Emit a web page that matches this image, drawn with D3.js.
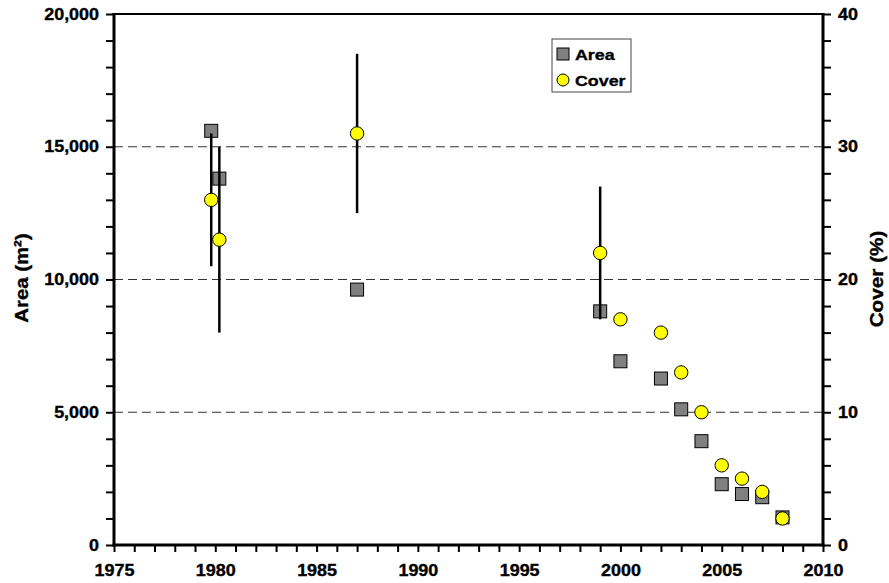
<!DOCTYPE html>
<html>
<head>
<meta charset="utf-8">
<script src="https://cdn.jsdelivr.net/npm/d3@7"></script>
<style>
  body { margin: 0; background: #fff; }
  svg text { font-family: "Liberation Sans", Arial, sans-serif; font-weight: 700; fill: #000; stroke: #000; stroke-width: 0.35px; }
</style>
</head>
<body>
<div id="chart"></div>
<script>
// data ---------------------------------------------------------------------------
const years = [1979.8, 1980.2, 1987, 1999, 2000, 2002, 2003, 2004, 2005, 2006, 2007, 2008];
const areaValues = [15600, 13800, 9620, 8800, 6920, 6270, 5110, 3910, 2290, 1920, 1800, 1040];
const coverValues = [26, 23, 31, 22, 17, 16, 13, 10, 6, 5, 4, 2];
const coverErrors = [5, 7, 6, 5, 0, 0, 0, 0, 0, 0, 0, 0];
const xTicks = [1975, 1980, 1985, 1990, 1995, 2000, 2005, 2010];
const areaTicks = [0, 5000, 10000, 15000, 20000];
const coverTicks = [0, 10, 20, 30, 40];
const gridValues = [5000, 10000, 15000];
const legendLabels = ['Area', 'Cover'];

// layout --------------------------------------------------------------------------
const width = 889, height = 583;
const margin = {top: 14, right: 66, bottom: 38, left: 114};
const w = width - margin.left - margin.right;
const h = height - margin.top - margin.bottom;

const svg = d3.select('#chart').append('svg')
  .attr('width', width)
  .attr('height', height);
const g = svg.append('g')
  .attr('transform', 'translate(' + margin.left + ',' + margin.top + ')');

const x = d3.scaleLinear().domain([1975, 2010]).range([0, w]);
const yArea = d3.scaleLinear().domain([0, 20000]).range([h, 0]);
const yCover = d3.scaleLinear().domain([0, 40]).range([h, 0]);

// Arial in the source is a bit wider than Liberation, stretch the glyphs
const stretch = (sel, k) => sel.each(function () {
  const len = this.getComputedTextLength();
  d3.select(this).attr('textLength', len * k).attr('lengthAdjust', 'spacingAndGlyphs');
});

// grid lines -------------------------------------------------------------------------
g.selectAll('.grid')
  .data(gridValues)
  .enter()
  .append('line')
  .attr('x1', 0).attr('x2', w)
  .attr('y1', d => yArea(d)).attr('y2', d => yArea(d))
  .attr('stroke', '#333')
  .attr('stroke-width', 1)
  .attr('stroke-dasharray', '9,5');

// area squares -------------------------------------------------------------------------
const sq = 13;
g.selectAll('.area')
  .data(years.map((yr, i) => ({yr, v: areaValues[i]})))
  .enter()
  .append('rect')
  .attr('x', d => x(d.yr) - sq / 2)
  .attr('y', d => yArea(d.v) - sq / 2)
  .attr('width', sq).attr('height', sq)
  .attr('fill', '#808080')
  .attr('stroke', '#000')
  .attr('stroke-width', 1);

// error bars on cover -------------------------------------------------------------------
const coverData = years.map((yr, i) => ({yr, v: coverValues[i], e: coverErrors[i]}));
g.selectAll('.err')
  .data(coverData.filter(d => d.e > 0))
  .enter()
  .append('line')
  .attr('x1', d => x(d.yr)).attr('x2', d => x(d.yr))
  .attr('y1', d => yCover(d.v + d.e))
  .attr('y2', d => yCover(d.v - d.e))
  .attr('stroke', '#000')
  .attr('stroke-width', 2.5);

// cover circles -------------------------------------------------------------------------
g.selectAll('.cover')
  .data(coverData)
  .enter()
  .append('circle')
  .attr('cx', d => x(d.yr))
  .attr('cy', d => yCover(d.v))
  .attr('r', 6.7)
  .attr('fill', '#ffff00')
  .attr('stroke', '#000')
  .attr('stroke-width', 1);

// axes ------------------------------------------------------------------------------------
const styleAxis = (ax) => {
  ax.attr('font-family', null).attr('font-size', null);
  ax.select('.domain').remove();
  ax.selectAll('.tick line').attr('stroke', '#000').attr('stroke-width', 2);
  ax.selectAll('.tick text')
    .style('font-size', '16px')
    .call(stretch, 1.12);
};

const xAxis = g.append('g')
  .attr('transform', 'translate(0,' + h + ')')
  .call(d3.axisBottom(x)
    .tickValues(d3.range(1975, 2011, 1))
    .tickFormat(d => xTicks.includes(d) ? d : '')
    .tickSize(7)
    .tickSizeOuter(0)
    .tickPadding(13));
styleAxis(xAxis);

const leftAxis = g.append('g')
  .call(d3.axisLeft(yArea)
    .tickValues(d3.range(0, 20001, 1000))
    .tickFormat(d => areaTicks.includes(d) ? d3.format(',')(d) : '')
    .tickSize(8)
    .tickSizeOuter(0)
    .tickPadding(7));
styleAxis(leftAxis);

const rightAxis = g.append('g')
  .attr('transform', 'translate(' + w + ',0)')
  .call(d3.axisRight(yCover)
    .tickValues(d3.range(0, 41, 2))
    .tickFormat(d => coverTicks.includes(d) ? d : '')
    .tickSize(8)
    .tickSizeOuter(0)
    .tickPadding(7));
styleAxis(rightAxis);

// frame: thick left, right and bottom, thinner top
const frame = [
  {x1: 0, y1: -1, x2: 0, y2: h + 1.5, sw: 3},
  {x1: w, y1: -1, x2: w, y2: h + 1.5, sw: 3},
  {x1: -1.5, y1: h, x2: w + 1.5, y2: h, sw: 3},
  {x1: -1.5, y1: 0, x2: w + 1.5, y2: 0, sw: 2}
];
g.selectAll('.frame')
  .data(frame)
  .enter()
  .append('line')
  .attr('x1', d => d.x1).attr('y1', d => d.y1)
  .attr('x2', d => d.x2).attr('y2', d => d.y2)
  .attr('stroke', '#000')
  .attr('stroke-width', d => d.sw);

// axis titles --------------------------------------------------------------------------
svg.append('text')
  .attr('transform', 'translate(28,278) rotate(-90)')
  .attr('text-anchor', 'middle')
  .style('font-size', '18.5px')
  .text('Area (m²)')
  .call(stretch, 1.1);

svg.append('text')
  .attr('transform', 'translate(883,279) rotate(-90)')
  .attr('text-anchor', 'middle')
  .style('font-size', '18.5px')
  .text('Cover (%)')
  .call(stretch, 1.12);

// legend --------------------------------------------------------------------------------
const legend = svg.append('g').attr('transform', 'translate(552,39)');
legend.append('rect')
  .attr('width', 79).attr('height', 53)
  .attr('fill', '#fff')
  .attr('stroke', '#444')
  .attr('stroke-width', 1);
legend.append('rect')
  .attr('x', 11 - 6).attr('y', 15 - 6)
  .attr('width', 12).attr('height', 12)
  .attr('fill', '#808080')
  .attr('stroke', '#000');
legend.append('circle')
  .attr('cx', 11).attr('cy', 41)
  .attr('r', 6)
  .attr('fill', '#ffff00')
  .attr('stroke', '#000');
legend.selectAll('.lbl')
  .data(legendLabels)
  .enter()
  .append('text')
  .attr('x', 23)
  .attr('y', (d, i) => 20.5 + i * 26.4)
  .style('font-size', '15.5px')
  .text(d => d)
  .call(stretch, 1.15);
</script>
</body>
</html>
